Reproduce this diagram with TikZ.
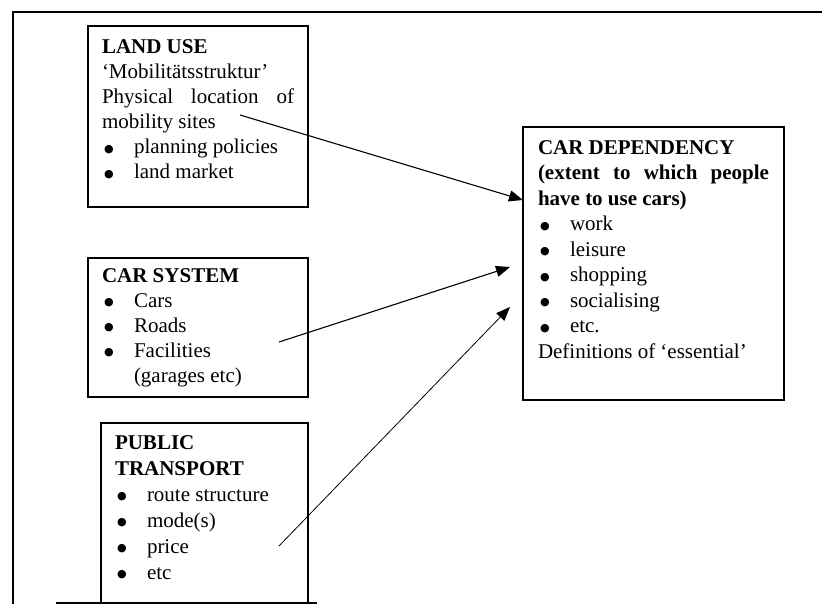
\documentclass[tikz,border=0pt]{standalone}
\usepackage{fontspec}
\setmainfont{Liberation Serif}
\newfontfamily\symfont{DejaVu Sans}
\usetikzlibrary{arrows.meta,calc}
\newcommand{\bitem}[1]{\par\noindent\hbox to 32pt{\hspace{2pt}\raisebox{1.5pt}{\symfont\fontsize{11}{13}\selectfont ●}\hfil}#1}
\newcommand{\hangline}[1]{\par\noindent\hspace*{32pt}#1}
\begin{document}
\begin{tikzpicture}[x=1pt,y=-1pt,
  box/.style={draw, line width=1.3pt, anchor=north west, inner xsep=14pt, inner ysep=0pt, outer sep=0pt},
  link/.style={line width=1.1pt, -{Triangle[length=14pt,width=11pt]}},
  framewall/.style={line width=2.6pt}]
\useasboundingbox (0,0) rectangle (822,604);
\fill[white] (0,0) rectangle (822,604);
% outer frame
\coordinate (ftr) at (822,12);
\coordinate (ftl) at (13,12);
\coordinate (fbl) at (13,604);
\draw[framewall] (ftr) -- (ftl) -- (fbl);
\coordinate (bl1) at (56,603);
\coordinate (bl2) at (317,603);
\draw[line width=1.4pt] (bl1) -- (bl2);
% boxes
\node[box] (land) at (88,26) {\fontsize{21}{25}\selectfont\parbox[c][181pt][t]{192pt}{\fontsize{21}{25}\selectfont
  \rule{0pt}{28pt}\textbf{LAND USE}\\
  ‘Mobilitätsstruktur’\\
  Physical location of\linebreak mobility sites
  \bitem{planning policies}
  \bitem{land market}}};
\node[box] (car) at (88,258) {\fontsize{21}{25}\selectfont\parbox[c][139pt][t]{192pt}{\fontsize{21}{25}\selectfont
  \rule{0pt}{24pt}\textbf{CAR SYSTEM}
  \bitem{Cars}
  \bitem{Roads}
  \bitem{Facilities}
  \hangline{(garages etc)}}};
\node[box] (pt) at (101,423) {\fontsize{21}{26}\selectfont\parbox[c][180pt][t]{179pt}{\fontsize{21}{26}\selectfont
  \rule{0pt}{26pt}\textbf{PUBLIC}\\
  \textbf{TRANSPORT}
  \bitem{route structure}
  \bitem{mode(s)}
  \bitem{price}
  \bitem{etc}}};
\node[box, inner xsep=15pt] (cd) at (523,127) {\fontsize{21}{25.5}\selectfont\parbox[c][273pt][t]{231pt}{\fontsize{21}{25.5}\selectfont
  \rule{0pt}{27pt}\textbf{CAR DEPENDENCY}\\
  \textbf{(extent to which people\linebreak have to use cars)}
  \bitem{work}
  \bitem{leisure}
  \bitem{shopping}
  \bitem{socialising}
  \bitem{etc.}
  \par\noindent Definitions of ‘essential’}};
% arrows
\coordinate (a1s) at (240,115);
\coordinate (a1e) at ($(cd.north west)+(0,73)$);
\coordinate (a2s) at (279,342);
\coordinate (a2e) at (510,267);
\coordinate (a3s) at (279,546);
\coordinate (a3e) at (510,307);
\draw[link] (a1s) -- (a1e);
\draw[link] (a2s) -- (a2e);
\draw[link, line width=0.8pt] (a3s) -- (a3e);
\end{tikzpicture}
\end{document}
